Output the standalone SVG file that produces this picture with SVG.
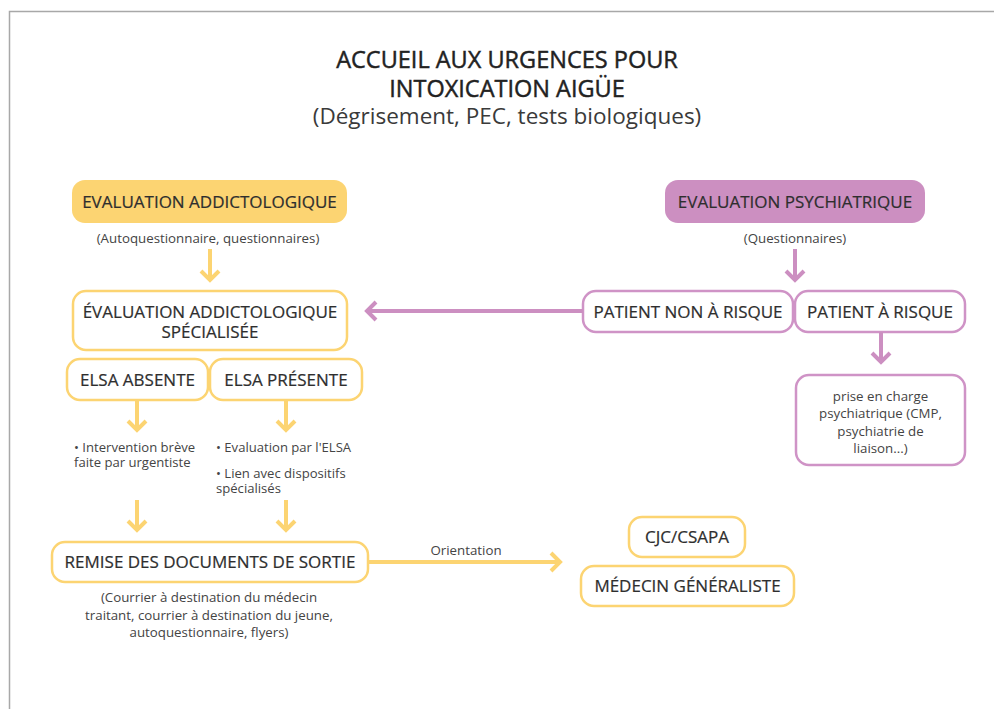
<svg xmlns="http://www.w3.org/2000/svg" width="994" height="709" viewBox="0 0 994 709">
<style>
text{font-family:"Open Sans","Liberation Sans",sans-serif;fill:#2e2e2e}
.t{font-size:23.5px;text-anchor:middle;fill:#222;stroke:#222;stroke-width:0.45}
.st{font-size:22.5px;text-anchor:middle;fill:#3a3a3a}
.lb{font-size:17px;font-weight:500;text-anchor:middle;stroke:#2e2e2e;stroke-width:0.2}
.sm{font-size:13.3px;text-anchor:middle;fill:#444}
.bl{font-size:13.1px;fill:#444}
.y{fill:#fff;stroke:#FCD472;stroke-width:2.5}
.p{fill:#fff;stroke:#CF93C6;stroke-width:2.5}
.yf{fill:#FCD472}
.pf{fill:#CC8FC1}
.ya{fill:none;stroke:#FCD472;stroke-width:4;stroke-linejoin:miter}
.pa{fill:none;stroke:#CC8FC1;stroke-width:4;stroke-linejoin:miter}
</style>
<rect width="994" height="709" fill="#fff"/>
<path d="M9.5,709 V11.5 H994" fill="none" stroke="#a8a8a8" stroke-width="1.5"/>
<g id="title">
<text class="t" x="507" y="68">ACCUEIL AUX URGENCES POUR</text>
<text class="t" x="507" y="97">INTOXICATION AIGÜE</text>
<text class="st" x="507" y="124">(Dégrisement, PEC, tests biologiques)</text>
</g>
<g id="eval-addicto">
<rect class="yf" x="72" y="180" width="275" height="43" rx="13"/>
<text class="lb" x="209.5" y="208">EVALUATION ADDICTOLOGIQUE</text>
<text class="sm" x="208" y="243">(Autoquestionnaire, questionnaires)</text>
</g>
<g id="eval-specialisee">
<rect class="y" x="73" y="291" width="274" height="59" rx="13"/>
<text class="lb" x="210" y="318">ÉVALUATION ADDICTOLOGIQUE</text>
<text class="lb" x="210" y="338">SPÉCIALISÉE</text>
</g>
<g id="elsa-absente">
<rect class="y" x="67" y="359" width="141" height="41" rx="13"/>
<text class="lb" x="137.5" y="386">ELSA ABSENTE</text>
<text class="bl" x="74" y="452">• Intervention brève</text>
<text class="bl" x="74" y="467">faite par urgentiste</text>
</g>
<g id="elsa-presente">
<rect class="y" x="210" y="359" width="152" height="41" rx="13"/>
<text class="lb" x="286" y="386">ELSA PRÉSENTE</text>
<text class="bl" x="216" y="452">• Evaluation par l'ELSA</text>
<text class="bl" x="216" y="478">• Lien avec dispositifs</text>
<text class="bl" x="216" y="493">spécialisés</text>
</g>
<g id="remise">
<rect class="y" x="52" y="542" width="316" height="40" rx="13"/>
<text class="lb" x="210" y="568">REMISE DES DOCUMENTS DE SORTIE</text>
<text class="sm" x="209" y="602">(Courrier à destination du médecin</text>
<text class="sm" x="209" y="620">traitant, courrier à destination du jeune,</text>
<text class="sm" x="209" y="637">autoquestionnaire, flyers)</text>
</g>
<g id="cjc">
<rect class="y" x="629" y="517" width="116" height="40" rx="13"/>
<text class="lb" x="687" y="543">CJC/CSAPA</text>
</g>
<g id="medecin">
<rect class="y" x="581" y="566" width="213" height="40" rx="13"/>
<text class="lb" x="687.5" y="592">MÉDECIN GÉNÉRALISTE</text>
</g>
<g id="eval-psy">
<rect class="pf" x="665" y="180" width="260" height="43" rx="13"/>
<text class="lb" x="795" y="208">EVALUATION PSYCHIATRIQUE</text>
<text class="sm" x="795" y="243">(Questionnaires)</text>
</g>
<g id="patient-non">
<rect class="p" x="583" y="291" width="210" height="41" rx="13"/>
<text class="lb" x="688" y="318">PATIENT NON À RISQUE</text>
</g>
<g id="patient-risque">
<rect class="p" x="795" y="291" width="170" height="41" rx="13"/>
<text class="lb" x="880" y="318">PATIENT À RISQUE</text>
</g>
<g id="prise-en-charge">
<rect class="p" x="796" y="375" width="169" height="90" rx="13"/>
<text class="sm" x="880.5" y="401">prise en charge</text>
<text class="sm" x="880.5" y="418">psychiatrique (CMP,</text>
<text class="sm" x="880.5" y="436">psychiatrie de</text>
<text class="sm" x="880.5" y="453">liaison...)</text>
</g>
<g id="connectors">
<path class="ya" d="M210,249 V280 M201,271 L210,280 L219,271"/>
<path class="ya" d="M137,400 V430 M128,421 L137,430 L146,421"/>
<path class="ya" d="M286,400 V430 M277,421 L286,430 L295,421"/>
<path class="ya" d="M137,500 V530 M128,521 L137,530 L146,521"/>
<path class="ya" d="M286,500 V530 M277,521 L286,530 L295,521"/>
<path class="ya" d="M368,562 H560 M551,553 L560,562 L551,571"/>
<text class="sm" x="466" y="555">Orientation</text>
<path class="pa" d="M795,249 V280 M786,271 L795,280 L804,271"/>
<path class="pa" d="M881,332 V362 M872,353 L881,362 L890,353"/>
<path class="pa" d="M583,311 H367 M376,302 L367,311 L376,320"/>
</g>
</svg>
